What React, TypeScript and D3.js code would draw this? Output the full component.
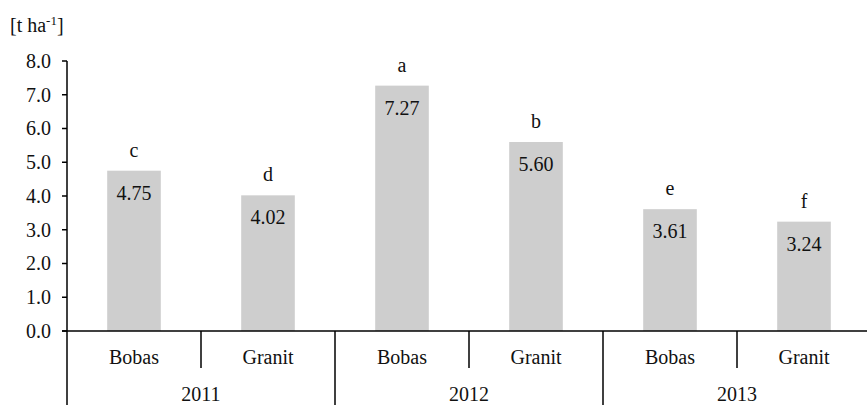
import React from "react";
import * as d3 from "d3";

const years = ["2011", "2012", "2013"];
const varieties = ["Bobas", "Granit"];
const values = [4.75, 4.02, 7.27, 5.6, 3.61, 3.24];
const letters = ["c", "d", "a", "b", "e", "f"];
const yTicks = [0, 1, 2, 3, 4, 5, 6, 7, 8];

const W = 867;
const H = 405;
const FONT = '"Liberation Serif", "Times New Roman", Times, serif';

export default function App() {
  const categories = years.flatMap((y) => varieties.map((v) => `${y}-${v}`));
  const x = d3.scaleBand<string>().domain(categories).range([67, 871]).padding(0);
  const y = d3.scaleLinear().domain([0, 8]).range([331, 61]);
  const barW = x.bandwidth() * 0.4;
  const yearX = d3.scaleBand<string>().domain(years).range([67, 871]).padding(0);
  const base = y(0);
  const txt = { fontFamily: FONT, fontSize: "20px" } as React.CSSProperties;

  return (
    <svg
      width={W}
      height={H}
      style={{ position: "absolute", left: 0, top: 0, background: "#fff", fontFamily: FONT }}
    >
      {categories.map((c, i) => {
        const cx = (x(c) as number) + x.bandwidth() / 2;
        const top = y(values[i]);
        return (
          <g key={c}>
            <rect x={cx - barW / 2} y={top} width={barW} height={base - top} fill="#cecece" />
            <text x={cx} y={top + 29} textAnchor="middle" style={txt} fill="#111">
              {values[i].toFixed(2)}
            </text>
            <text x={cx} y={top - 14} textAnchor="middle" style={txt} fill="#111">
              {letters[i]}
            </text>
            <text x={cx} y={364} textAnchor="middle" style={txt} fill="#111">
              {c.split("-")[1]}
            </text>
          </g>
        );
      })}
      <line x1={67} x2={67} y1={y(8)} y2={H} stroke="#000" strokeWidth={1.5} />
      {yTicks.map((t) => (
        <g key={t}>
          <line x1={62} x2={67} y1={y(t)} y2={y(t)} stroke="#000" strokeWidth={1.5} />
          <text x={51} y={y(t)} dy="0.34em" textAnchor="end" style={txt} fill="#111">
            {t.toFixed(1)}
          </text>
        </g>
      ))}
      <line x1={62} x2={W} y1={base} y2={base} stroke="#000" strokeWidth={1.5} />
      {years.map((yr) => {
        const gx = (yearX(yr) as number) + yearX.bandwidth() / 2;
        return (
          <g key={yr}>
            <line x1={gx} x2={gx} y1={base} y2={368} stroke="#000" strokeWidth={1.5} />
            <text x={gx} y={401} textAnchor="middle" style={txt} fill="#111">
              {yr}
            </text>
            {yr !== years[0] && (
              <line
                x1={yearX(yr) as number}
                x2={yearX(yr) as number}
                y1={base}
                y2={H}
                stroke="#000"
                strokeWidth={1.5}
              />
            )}
          </g>
        );
      })}
      <text x={10} y={32} style={txt} fill="#111">
        [t ha<tspan dy={-7} style={{ fontSize: "13px" }}>-1</tspan>
        <tspan dy={7}>]</tspan>
      </text>
    </svg>
  );
}
